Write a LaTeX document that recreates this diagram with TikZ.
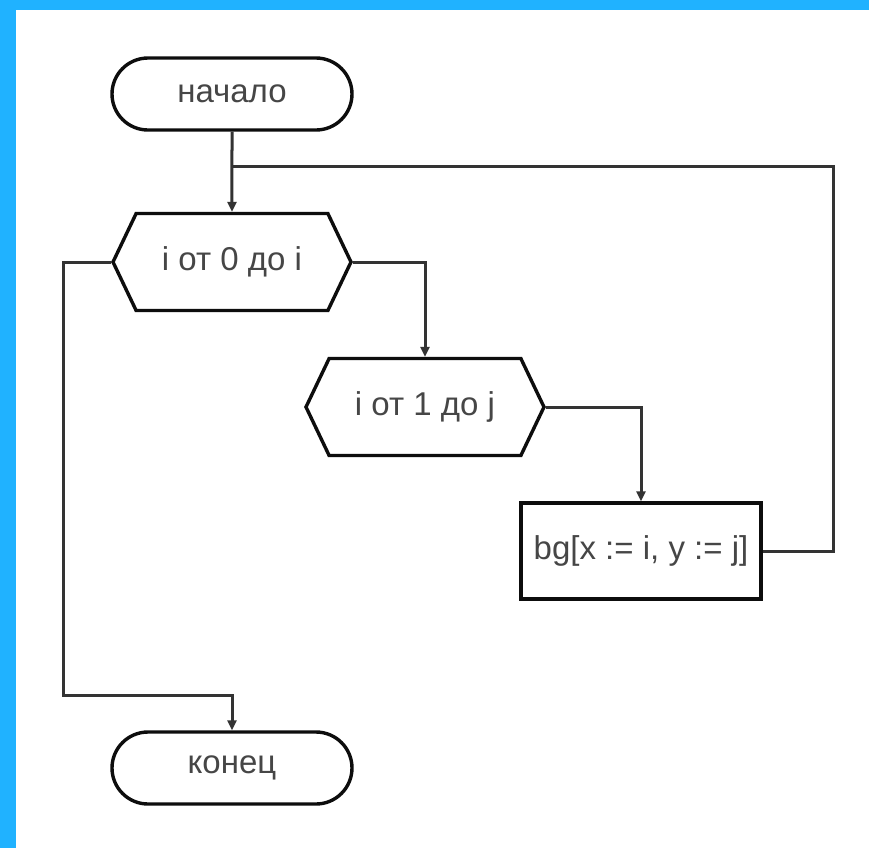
\documentclass[tikz,border=0pt]{standalone}
\usepackage{fontspec}
\setmainfont{Liberation Sans}
\usetikzlibrary{arrows.meta,shapes.symbols}
\definecolor{frameblue}{RGB}{32,178,255}
\definecolor{inkgray}{RGB}{70,70,70}

\begin{document}
\begin{tikzpicture}[x=0.5pt,y=-0.5pt,
	every node/.style={font=\fontsize{16.5}{19}\selectfont,text=inkgray,inner sep=0pt},
	terminal/.style={draw=black!95,line width=1.7pt,rounded corners=18pt,minimum width=120pt,minimum height=36pt},
	loophex/.style={draw=black!95,line width=1.7pt,signal,signal to=east and west,signal pointer angle=129,minimum width=119pt,minimum height=48.5pt},
	process/.style={draw=black!95,line width=1.7pt,minimum width=120pt,minimum height=48pt},
	flow/.style={draw=black!80,line width=1.5pt},
	arr/.style={flow,-{Triangle[length=5pt,width=4.5pt]}}]
			%%%%% START %%%%%
			\fill[frameblue] (0, 0) rectangle (869, 848);
			\fill[white] (16, 10) rectangle (869, 848);
			
			\node[terminal] (start) at (232, 94) {начало};
			\node[loophex] (loopi) at (232, 262) {i от 0 до i};
			\node[loophex] (loopj) at (425, 407) {i от 1 до j};
			\node[process] (assign) at (641, 551) {bg[x := i, y := j]};
			\node[terminal] (stop) at (232, 768) {конец};
			
			\coordinate (join) at (232, 166);
			\coordinate (back) at (833, 166);
			\coordinate (exit) at (63, 695);
			
			\draw[arr] (start) -- (loopi);
			\draw[arr] (loopi.east) -| (loopj.north);
			\draw[arr] (loopj.east) -| (assign.north);
			\draw[flow] (assign.east) -| (back) -- (join);
			\draw[arr] (loopi.west) -| (exit) -| (stop.north);
			%%%%% END %%%%%
\end{tikzpicture}
\end{document}
